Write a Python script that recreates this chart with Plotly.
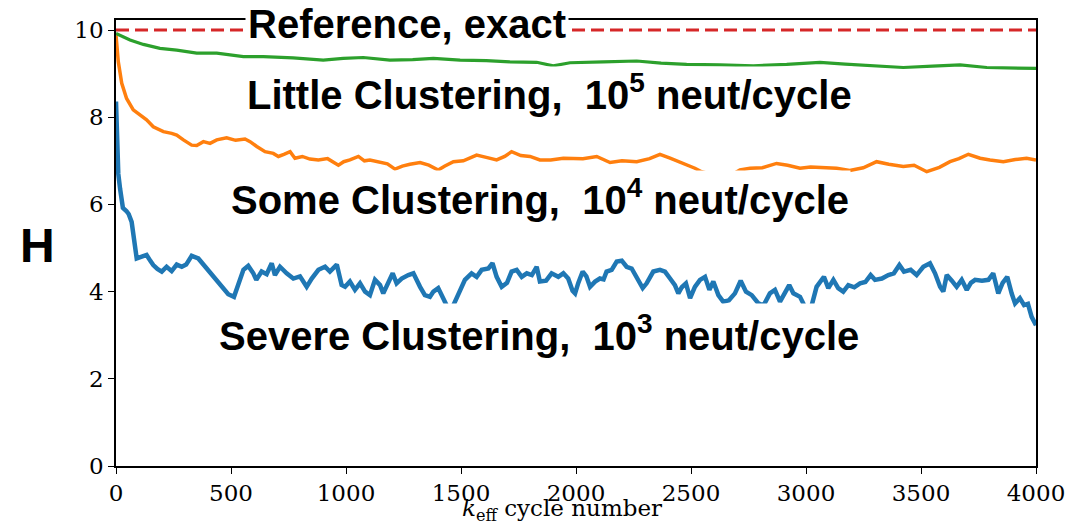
import plotly.graph_objects as go

# ---- data ----
severe_x = [0, 4, 10, 18, 30, 45, 55, 68, 80, 90, 112, 133, 150, 162, 180, 199, 220, 242, 264, 286, 305, 329, 358, 394, 415, 438, 467, 488, 513, 532, 554, 575, 597, 610, 633, 655, 677, 691, 713, 742, 771, 800, 829, 851, 880, 909, 930, 960, 981, 996, 1017, 1039, 1061, 1083, 1104, 1126, 1148, 1162, 1184, 1203, 1220, 1242, 1271, 1293, 1322, 1343, 1365, 1380, 1401, 1416, 1430, 1450, 1467, 1488, 1517, 1546, 1568, 1590, 1619, 1637, 1655, 1677, 1700, 1720, 1742, 1764, 1786, 1808, 1829, 1843, 1870, 1894, 1923, 1945, 1966, 1985, 1996, 2010, 2029, 2045, 2061, 2083, 2104, 2120, 2133, 2155, 2177, 2199, 2220, 2242, 2264, 2290, 2307, 2336, 2365, 2387, 2409, 2430, 2445, 2460, 2478, 2496, 2517, 2539, 2561, 2580, 2597, 2619, 2640, 2665, 2691, 2716, 2739, 2764, 2793, 2815, 2843, 2865, 2887, 2905, 2927, 2945, 2974, 2988, 3005, 3025, 3046, 3078, 3097, 3119, 3140, 3162, 3184, 3210, 3235, 3258, 3281, 3300, 3330, 3358, 3382, 3406, 3426, 3455, 3481, 3510, 3539, 3561, 3583, 3597, 3612, 3634, 3655, 3677, 3699, 3717, 3735, 3765, 3793, 3814, 3836, 3855, 3875, 3894, 3909, 3930, 3948, 3965, 3981, 4000]
severe_y = [8.36, 7.1, 6.7, 6.35, 5.92, 5.85, 5.78, 5.6, 5.2, 4.76, 4.8, 4.84, 4.7, 4.61, 4.52, 4.46, 4.57, 4.47, 4.62, 4.57, 4.62, 4.82, 4.76, 4.53, 4.4, 4.27, 4.08, 3.94, 3.88, 4.15, 4.5, 4.59, 4.42, 4.27, 4.46, 4.4, 4.65, 4.38, 4.57, 4.42, 4.30, 4.35, 4.11, 4.30, 4.5, 4.57, 4.46, 4.62, 4.15, 4.11, 4.23, 4.04, 4.19, 4.0, 3.92, 4.27, 4.15, 3.96, 4.23, 4.42, 4.19, 4.30, 4.38, 4.42, 4.11, 3.92, 3.88, 4.0, 4.08, 3.92, 3.74, 3.55, 3.69, 3.92, 4.27, 4.42, 4.34, 4.5, 4.53, 4.65, 4.34, 4.11, 4.2, 4.46, 4.5, 4.34, 4.42, 4.38, 4.57, 4.23, 4.25, 4.42, 4.34, 4.42, 4.3, 4.02, 3.96, 4.2, 4.46, 4.35, 4.11, 4.23, 4.30, 4.28, 4.46, 4.5, 4.69, 4.71, 4.57, 4.53, 4.30, 4.08, 4.19, 4.46, 4.5, 4.46, 4.30, 4.15, 3.96, 4.1, 4.19, 3.85, 4.11, 4.27, 4.34, 4.04, 4.23, 3.92, 3.77, 3.8, 3.96, 4.25, 4.0, 3.92, 3.73, 3.68, 3.96, 4.04, 3.77, 3.95, 4.15, 3.96, 3.88, 3.73, 3.5, 3.69, 4.11, 4.34, 4.08, 4.27, 4.08, 4.0, 4.15, 4.1, 4.19, 4.22, 4.38, 4.27, 4.3, 4.38, 4.42, 4.61, 4.46, 4.5, 4.38, 4.57, 4.65, 4.42, 4.11, 4.0, 4.38, 4.25, 4.11, 4.27, 4.04, 4.2, 4.27, 4.25, 4.27, 4.42, 3.96, 4.2, 4.34, 3.96, 3.73, 3.85, 3.69, 3.72, 3.42, 3.23]

some_x = [0, 10, 25, 46, 75, 112, 133, 162, 206, 242, 264, 293, 329, 351, 380, 409, 438, 481, 520, 561, 583, 612, 648, 684, 706, 730, 757, 778, 810, 843, 880, 920, 967, 990, 1017, 1054, 1080, 1104, 1141, 1180, 1213, 1245, 1278, 1322, 1360, 1401, 1430, 1467, 1510, 1568, 1610, 1655, 1690, 1720, 1760, 1800, 1843, 1890, 1945, 1974, 2030, 2090, 2148, 2200, 2264, 2320, 2365, 2409, 2467, 2517, 2546, 2580, 2620, 2660, 2690, 2713, 2757, 2810, 2872, 2920, 2974, 3020, 3075, 3133, 3190, 3249, 3307, 3360, 3423, 3470, 3525, 3580, 3626, 3665, 3706, 3757, 3800, 3858, 3910, 3959, 4000]
some_y = [9.88, 9.27, 8.78, 8.43, 8.17, 8.03, 7.94, 7.78, 7.67, 7.63, 7.59, 7.48, 7.36, 7.35, 7.44, 7.40, 7.48, 7.53, 7.47, 7.5, 7.44, 7.33, 7.21, 7.17, 7.10, 7.15, 7.21, 7.06, 7.1, 7.04, 7.02, 7.05, 6.90, 6.98, 7.02, 7.10, 7.0, 7.02, 6.98, 6.93, 6.81, 6.88, 6.92, 6.96, 6.9, 6.79, 6.88, 6.98, 7.0, 7.13, 7.08, 7.02, 7.1, 7.21, 7.12, 7.10, 7.02, 7.02, 7.06, 7.06, 7.05, 7.10, 6.96, 7.0, 6.98, 7.05, 7.15, 7.06, 6.94, 6.83, 6.75, 6.7, 6.65, 6.68, 6.72, 6.79, 6.83, 6.84, 6.94, 6.9, 6.83, 6.86, 6.84, 6.83, 6.78, 6.84, 6.98, 6.92, 6.87, 6.9, 6.75, 6.85, 6.98, 7.05, 7.15, 7.06, 7.02, 6.98, 7.03, 7.06, 7.02]

little_x = [0, 30, 61, 119, 191, 264, 351, 438, 554, 641, 770, 901, 988, 1075, 1191, 1290, 1380, 1496, 1610, 1713, 1829, 1901, 1974, 2119, 2264, 2370, 2481, 2626, 2771, 2916, 3061, 3170, 3278, 3423, 3550, 3670, 3786, 3901, 4000]
little_y = [9.92, 9.85, 9.77, 9.67, 9.58, 9.54, 9.47, 9.47, 9.39, 9.39, 9.36, 9.31, 9.35, 9.37, 9.31, 9.32, 9.35, 9.31, 9.3, 9.27, 9.26, 9.18, 9.25, 9.27, 9.29, 9.24, 9.21, 9.20, 9.18, 9.21, 9.26, 9.22, 9.18, 9.14, 9.17, 9.20, 9.14, 9.13, 9.12]

ref_x = [0, 4000]
ref_y = [10.0, 10.0]

x_ticks = [0, 500, 1000, 1500, 2000, 2500, 3000, 3500, 4000]
y_ticks = [0, 2, 4, 6, 8, 10]

# text, x, y, padding of the white box
labels = [
    ("Reference, exact", 1265, 10.14, 2),
    ("Little Clustering,\u00a0 10<sup>5</sup> neut/cycle", 1885, 8.57, 0),
    ("Some Clustering,\u00a0 10<sup>4</sup> neut/cycle", 1843, 6.17, 1),
    ("Severe Clustering,\u00a0 10<sup>3</sup> neut/cycle", 1839, 3.05, 4),
]

fig = go.Figure()
fig.add_trace(go.Scatter(x=severe_x, y=severe_y, mode="lines",
                         line=dict(color="#1f77b4", width=4.5)))
fig.add_trace(go.Scatter(x=some_x, y=some_y, mode="lines",
                         line=dict(color="#ff7f0e", width=3.5)))
fig.add_trace(go.Scatter(x=ref_x, y=ref_y, mode="lines",
                         line=dict(color="#d62728", width=3, dash="13px,6px")))
fig.add_trace(go.Scatter(x=little_x, y=little_y, mode="lines",
                         line=dict(color="#2ca02c", width=3.2)))

for txt, xx, yy, pad in labels:
    fig.add_annotation(x=xx, y=yy, xref="x", yref="y", text=txt, showarrow=False,
                       font=dict(family="Liberation Sans, Arial", size=40, color="black",
                                 weight="bold"),
                       bgcolor="white", borderpad=pad, xanchor="center", yanchor="middle")

fig.add_annotation(x=-0.0848, y=0.4955, xref="paper", yref="paper", text="H", showarrow=False,
                   font=dict(family="Liberation Sans, Arial", size=48, color="black", weight="bold"),
                   xanchor="center", yanchor="middle")

fig.add_annotation(x=0.485, y=-0.099, xref="paper", yref="paper",
                   text="<i>k</i><sub>eff</sub> cycle number", showarrow=False,
                   font=dict(family="DejaVu Serif", size=23, color="black"),
                   xanchor="center", yanchor="middle")

axis_common = dict(showgrid=False, zeroline=False, showline=True, linecolor="black",
                   linewidth=1.5, mirror=True, ticks="outside", ticklen=6, tickwidth=1.3,
                   tickcolor="black", automargin=False,
                   tickfont=dict(family="DejaVu Serif", size=23, color="black"))

fig.update_layout(
    width=1080, height=521,
    margin=dict(l=108, r=52, t=12, b=63),
    paper_bgcolor="white", plot_bgcolor="white",
    showlegend=False,
    xaxis=dict(range=[0, 4000], tickvals=x_ticks, **axis_common),
    yaxis=dict(range=[0, 10.23], tickvals=y_ticks, **axis_common),
)

fig.write_html("out.html")
